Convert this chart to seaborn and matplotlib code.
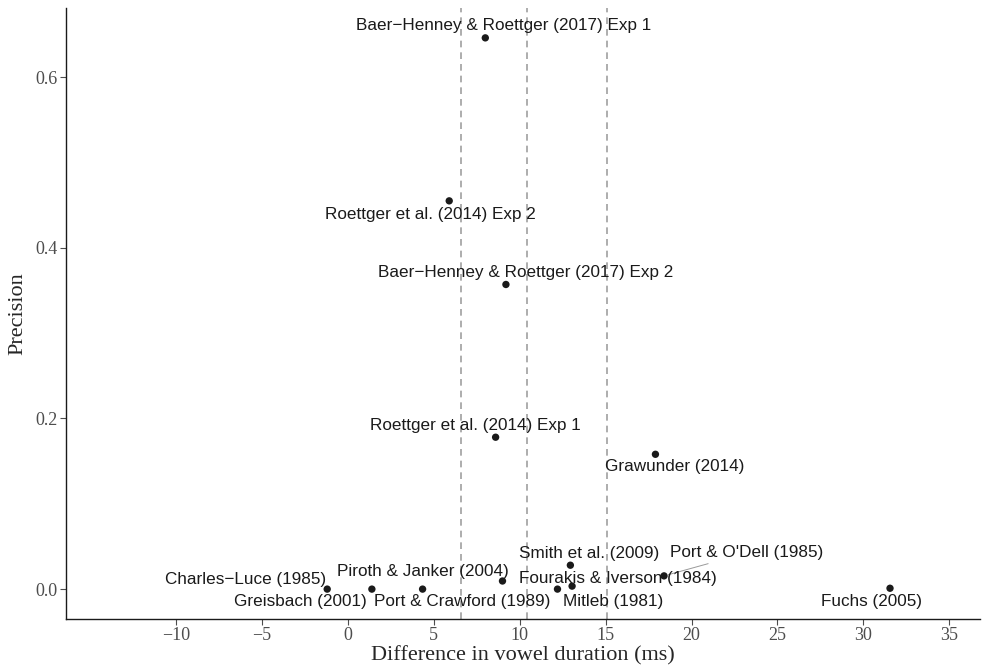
import numpy as np
import pandas as pd
import matplotlib.pyplot as plt
import seaborn as sns

# study labels, effect size (ms) and precision
studies = ["Baer\u2212Henney & Roettger (2017) Exp 1", "Roettger et al. (2014) Exp 2",
           "Baer\u2212Henney & Roettger (2017) Exp 2", "Roettger et al. (2014) Exp 1",
           "Grawunder (2014)", "Smith et al. (2009)", "Port & O'Dell (1985)",
           "Fourakis & Iverson (1984)", "Mitleb (1981)", "Fuchs (2005)",
           "Charles\u2212Luce (1985)", "Greisbach (2001)", "Port & Crawford (1989)",
           "Piroth & Janker (2004)"]
diff_ms = [8.0, 5.9, 9.2, 8.6, 17.9, 12.95, 18.4, 13.05, 12.2, 31.55, -1.2, 1.4, 4.35, 9.0]
precision = [0.646, 0.455, 0.357, 0.178, 0.158, 0.028, 0.0155, 0.0035, 0.0, 0.001,
             0.0, 0.0, 0.0, 0.0095]
# pooled estimate and interval (dashed lines)
ref_lines = [6.6, 10.45, 15.1]

# label offsets in pixels (repel-style placement)
offsets = [(18, 12), (-19, -14), (20, 12), (-20, 12), (19, -12), (19, 12), (83, 23),
           (46, 8), (56, -12), (-19, -13), (-82, 10), (-72, -12), (40, -12), (-80, 10)]

df = pd.DataFrame({"study": studies, "diff": diff_ms, "prec": precision})

sns.set_style("ticks")
plt.rcParams["font.family"] = ["Liberation Serif", "DejaVu Serif"]

fig = plt.figure(figsize=(9.82, 6.67), dpi=100)
ax = fig.add_axes([0.0672, 0.072, 0.931, 0.916])

for x in ref_lines:
    ax.axvline(x, color="#a0a0a0", ls=(0, (4, 3)), lw=1.2, zorder=1)

sns.scatterplot(data=df, x="diff", y="prec", color="#1a1a1a", s=28,
                edgecolor="none", ax=ax, zorder=3)

for name, x, y, (dx, dy) in zip(studies, diff_ms, precision, offsets):
    arrow = None
    if name.startswith("Port & O"):
        arrow = dict(arrowstyle="-", color="#9a9a9a", lw=0.7, shrinkA=0, shrinkB=3)
    ax.annotate(name, (x, y), xytext=(dx, dy), textcoords="offset pixels",
                ha="center", va="center", fontsize=12.3, color="#1a1a1a",
                family=["Liberation Sans", "DejaVu Sans"], arrowprops=arrow, zorder=4)

ax.set_xlim(-16.4, 36.8)
ax.set_ylim(-0.035, 0.681)
ax.set_xticks(np.arange(-10, 40, 5))
ax.set_xticklabels(["\u221210", "\u22125", "0", "5", "10", "15", "20", "25", "30", "35"])
ax.set_yticks([0.0, 0.2, 0.4, 0.6])
ax.set_yticklabels(["0.0", "0.2", "0.4", "0.6"])
ax.tick_params(labelsize=13, colors="#4d4d4d", length=4, width=0.8, pad=2)
for side in ["left", "bottom"]:
    ax.spines[side].set_color("#1a1a1a")
    ax.spines[side].set_linewidth(1.0)
sns.despine(ax=ax)
ax.set_xlabel("Difference in vowel duration (ms)", fontsize=16, labelpad=1)
ax.set_ylabel("Precision", fontsize=16, labelpad=6)

fig.savefig("out.png", dpi=100)
